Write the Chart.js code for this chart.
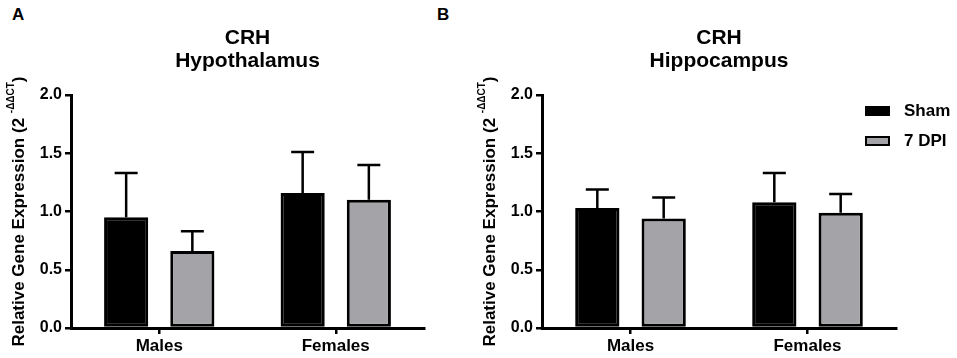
<!DOCTYPE html>
<html>
<head>
<meta charset="utf-8">
<script src="https://cdn.jsdelivr.net/npm/chart.js@4.4.1/dist/chart.umd.min.js"></script>
<style>
  body { margin: 0; background: #fff; width: 957px; height: 358px; position: relative; overflow: hidden;
         font-family: "Liberation Sans", Arial, sans-serif; }
  .wrap { position: absolute; top: 0; height: 358px; }
  .panel { position: absolute; font-weight: bold; font-size: 17px; line-height: 17px; color: #000; }
  #legend { position: absolute; left: 865px; top: 101px; }
  .item { display: flex; align-items: center; height: 20px; margin-bottom: 10px; font-weight: bold; font-size: 17px; }
  .swatch { width: 25px; height: 10px; box-sizing: border-box; margin-right: 14px; }
</style>
</head>
<body>
<div class="panel" style="left:12px;top:6px">A</div>
<div class="panel" style="left:437px;top:6px">B</div>
<div class="wrap" style="left:0;width:495px"><canvas id="hypoChart" width="495" height="358"></canvas></div>
<div class="wrap" style="left:470px;width:498px"><canvas id="hippoChart" width="498" height="358"></canvas></div>
<div id="legend"></div>
<script>
// data (mean and upper SEM)
const groups = ['Males', 'Females'];
const seriesNames = ['Sham', '7 DPI'];
const seriesColors = ['#000000', '#a4a4a8'];
const yTicks = [0, 0.5, 1.0, 1.5, 2.0];

const hypoSham = [0.95, 1.16];
const hypoShamErr = [0.38, 0.35];
const hypoDpi = [0.66, 1.10];
const hypoDpiErr = [0.17, 0.30];

const hippoSham = [1.03, 1.08];
const hippoShamErr = [0.16, 0.25];
const hippoDpi = [0.94, 0.99];
const hippoDpiErr = [0.18, 0.16];

const FONT = '"Liberation Sans", Arial, sans-serif';

// upper error bars, drawn through the y scale
const errorBars = {
    id: 'errorBars',
    afterDatasetsDraw(chart) {
        const ctx = chart.ctx;
        const y = chart.scales.y;
        chart.data.datasets.forEach((ds, i) => {
            chart.getDatasetMeta(i).data.forEach((bar, j) => {
                const base = y.getPixelForValue(ds.data[j]);
                const top = y.getPixelForValue(ds.data[j] + ds.errors[j]);
                const half = bar.width * 0.26;
                ctx.save();
                ctx.strokeStyle = '#000';
                ctx.lineWidth = 2.5;
                ctx.beginPath();
                ctx.moveTo(bar.x, base);
                ctx.lineTo(bar.x, top);
                ctx.moveTo(bar.x - half, top);
                ctx.lineTo(bar.x + half, top);
                ctx.stroke();
                ctx.restore();
            });
        });
    }
};

// y axis title with the 2^-ΔΔCT superscript
const yTitle = {
    id: 'yTitle',
    afterDraw(chart, args, opts) {
        const ctx = chart.ctx;
        const area = chart.chartArea;
        const main = 'Relative Gene Expression (2 ';
        const sup = '-\u0394\u0394CT';
        const close = ')';
        ctx.save();
        ctx.fillStyle = '#000';
        ctx.textBaseline = 'middle';
        ctx.font = 'bold 17px ' + FONT;
        const w1 = ctx.measureText(main).width;
        const w3 = ctx.measureText(close).width;
        ctx.font = 'bold 10px ' + FONT;
        const w2 = ctx.measureText(sup).width;
        const total = w1 + w2 + w3;
        ctx.translate(opts.x, (area.top + area.bottom) / 2);
        ctx.rotate(-Math.PI / 2);
        let x = -total / 2;
        ctx.font = 'bold 17px ' + FONT;
        ctx.fillText(main, x, 0);
        x += w1;
        ctx.font = 'bold 10px ' + FONT;
        ctx.fillText(sup, x, -8);
        x += w2;
        ctx.font = 'bold 17px ' + FONT;
        ctx.fillText(close, x, 0);
        ctx.restore();
    }
};

function makeChart(id, region, sham, shamErr, dpi, dpiErr, axisWidth, titleX) {
    const ctx = document.getElementById(id).getContext('2d');
    return new Chart(ctx, {
        type: 'bar',
        data: {
            labels: groups,
            datasets: [{
                label: seriesNames[0],
                data: sham,
                errors: shamErr,
                backgroundColor: seriesColors[0],
                borderColor: '#000',
                borderWidth: 3,
                borderSkipped: false
            }, {
                label: seriesNames[1],
                data: dpi,
                errors: dpiErr,
                backgroundColor: seriesColors[1],
                borderColor: '#000',
                borderWidth: 3,
                borderSkipped: false
            }]
        },
        options: {
            responsive: false,
            animation: false,
            categoryPercentage: 0.75,
            barPercentage: 0.667,
            layout: { padding: 0 },
            plugins: {
                legend: { display: false },
                tooltip: { enabled: false },
                title: {
                    display: true,
                    text: ['CRH', region],
                    color: '#000',
                    font: { family: FONT, size: 21, weight: 'bold', lineHeight: 1.12 },
                    padding: { top: 26, bottom: 22 }
                },
                yTitle: { x: titleX }
            },
            scales: {
                x: {
                    afterFit(scale) { scale.height = 30; },
                    grid: { display: true, offset: false, drawOnChartArea: false, drawTicks: true,
                            tickLength: 6, color: '#000', lineWidth: 2.5 },
                    border: { display: true, color: '#000', width: 3 },
                    ticks: { color: '#000', padding: 2, font: { family: FONT, size: 17, weight: 'bold' } }
                },
                y: {
                    min: 0,
                    max: 2,
                    afterFit(scale) { scale.width = axisWidth; },
                    afterBuildTicks(scale) { scale.ticks = yTicks.map(v => ({ value: v })); },
                    grid: { display: true, drawOnChartArea: false, drawTicks: true,
                            tickLength: 6, color: '#000', lineWidth: 2.5 },
                    border: { display: true, color: '#000', width: 3 },
                    ticks: {
                        color: '#000',
                        padding: 3,
                        font: { family: FONT, size: 16, weight: 'bold' },
                        callback: v => Number(v).toFixed(1)
                    }
                },
                // empty right-hand spacer so the title centres over the plot
                spacer: {
                    position: 'right',
                    type: 'linear',
                    display: true,
                    afterFit(scale) { scale.width = axisWidth; },
                    grid: { display: false },
                    border: { display: false },
                    ticks: { display: false }
                }
            }
        },
        plugins: [errorBars, yTitle]
    });
}

makeChart('hypoChart', 'Hypothalamus', hypoSham, hypoShamErr, hypoDpi, hypoDpiErr, 71, 19);
makeChart('hippoChart', 'Hippocampus', hippoSham, hippoShamErr, hippoDpi, hippoDpiErr, 72, 20);

// legend as html text
const legend = document.getElementById('legend');
seriesNames.forEach((name, i) => {
    const item = document.createElement('div');
    item.className = 'item';
    const sw = document.createElement('span');
    sw.className = 'swatch';
    sw.style.background = seriesColors[i];
    sw.style.border = '2px solid #000';
    item.appendChild(sw);
    item.appendChild(document.createTextNode(name));
    legend.appendChild(item);
});
</script>
</body>
</html>
